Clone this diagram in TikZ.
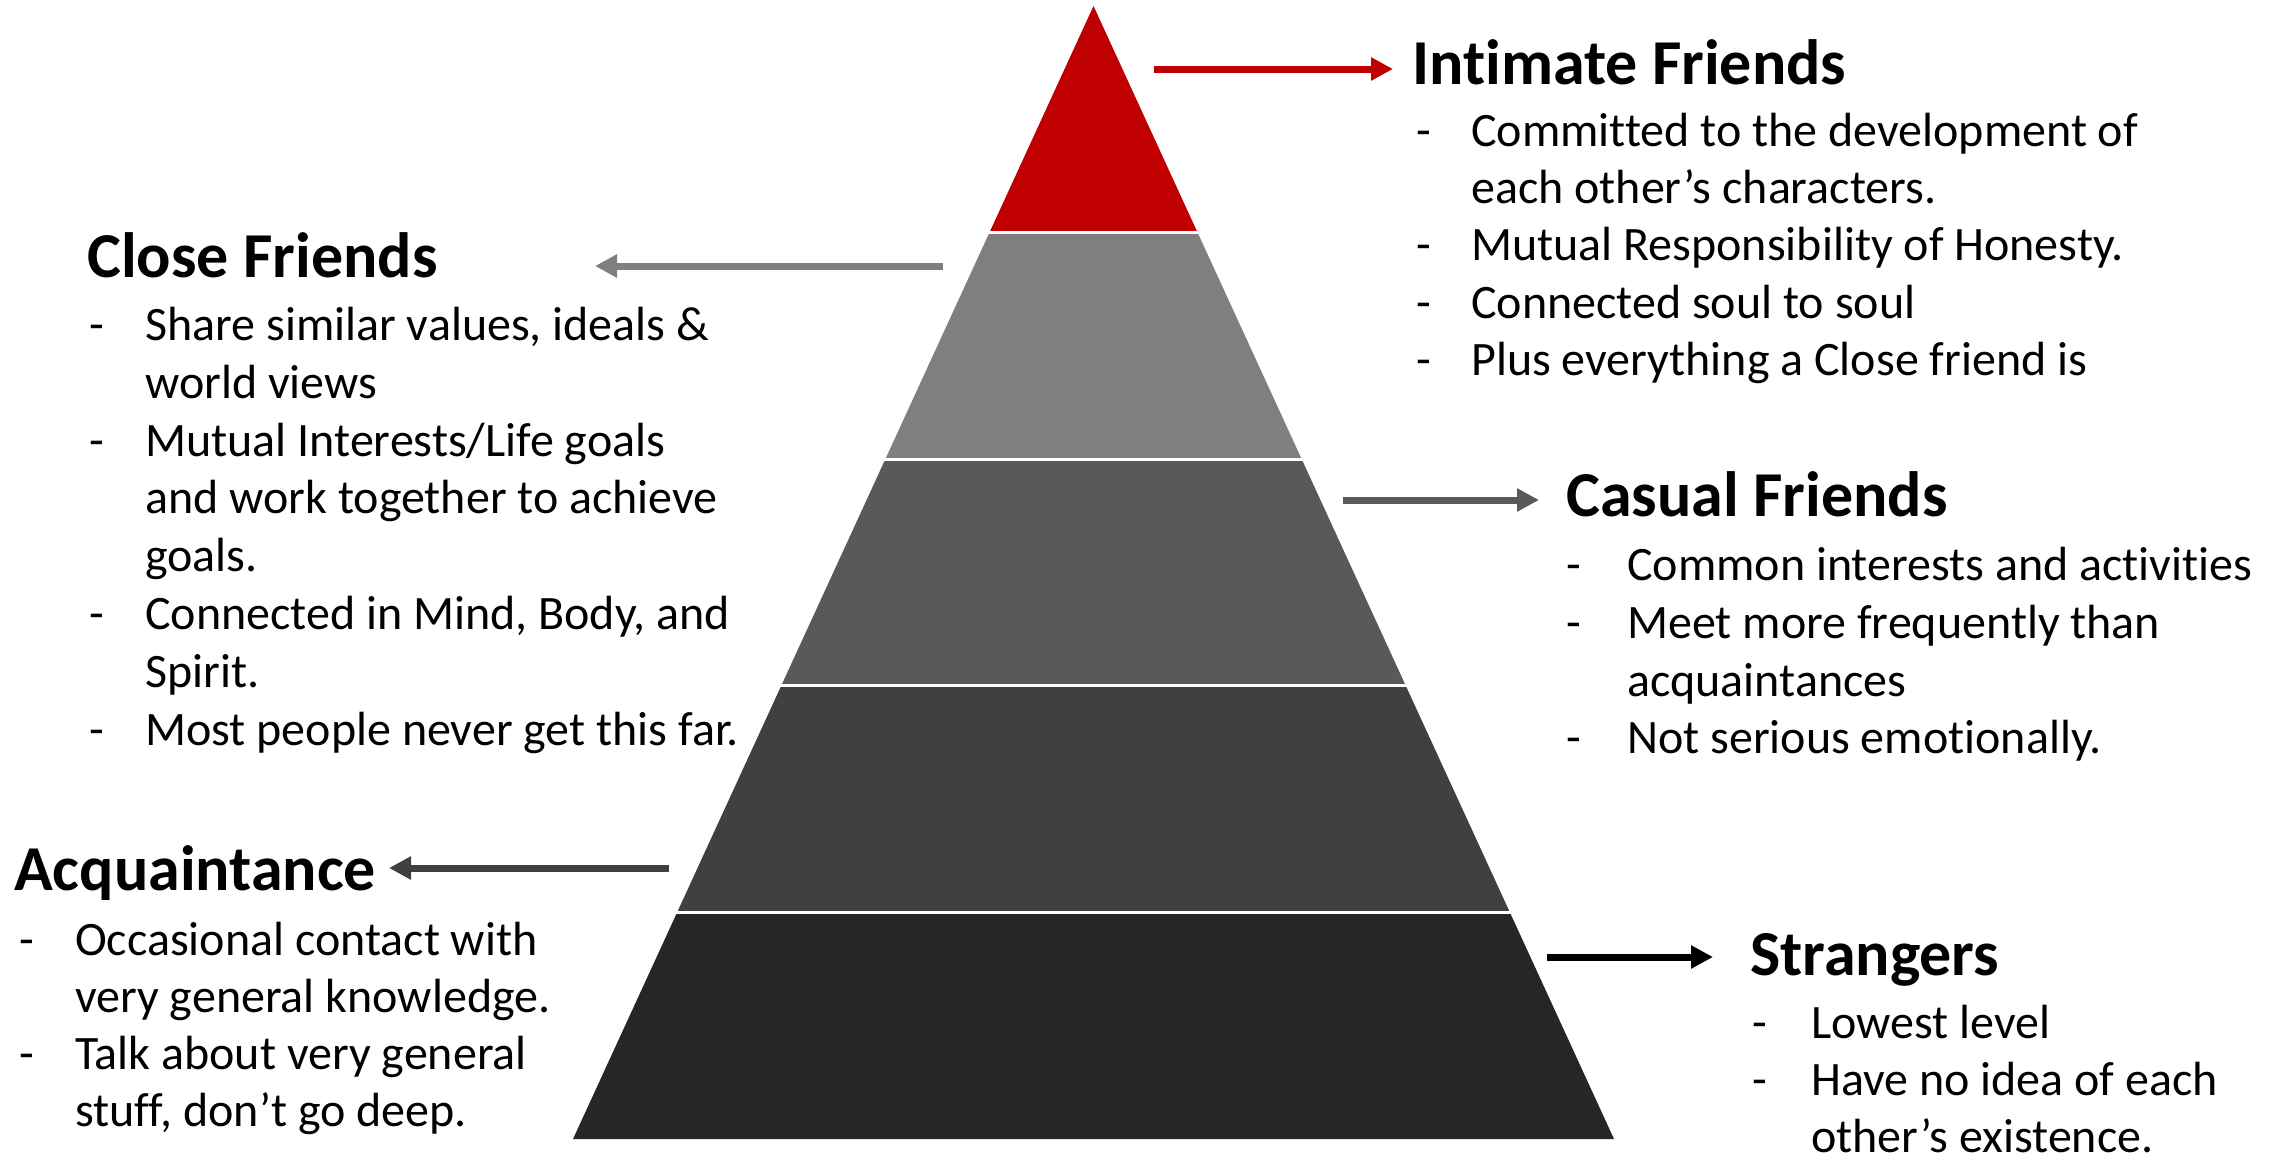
\documentclass[tikz,border=0pt]{standalone}
\usepackage{fontspec}
\setmainfont{Carlito}[Ligatures={NoCommon}]
\usetikzlibrary{arrows.meta}
\definecolor{cRed}{HTML}{C00000}
\definecolor{cB2}{HTML}{7F7F7F}
\definecolor{cB3}{HTML}{595959}
\definecolor{cB4}{HTML}{404040}
\definecolor{cB5}{HTML}{262626}
\tikzset{
  body/.style={font=\fontsize{48}{57.5}\selectfont, inner sep=0pt, anchor=base west},
  ttl/.style={font=\bfseries\fontsize{64}{77}\selectfont, inner sep=0pt, anchor=base west},
  arr/.style={line width=7pt, -{Triangle[length=22pt,width=22pt]}},
  sep/.style={draw=white, line width=3pt},
}
\begin{document}
\begin{tikzpicture}[x=1pt,y=-1pt]
\useasboundingbox (0,0) rectangle (2282,1152);
\fill[white] (0,0) rectangle (2282,1152);
% pyramid corners
\coordinate (apex) at (1093.5,6);
\coordinate (L1) at (989.4,232.6);  \coordinate (R1) at (1197.6,232.6);
\coordinate (L2) at (885.3,459.2);  \coordinate (R2) at (1301.7,459.2);
\coordinate (L3) at (781.2,685.8);  \coordinate (R3) at (1405.8,685.8);
\coordinate (L4) at (677.1,912.4);  \coordinate (R4) at (1509.9,912.4);
\coordinate (L5) at (573,1139);     \coordinate (R5) at (1614,1139);
\fill[cRed] (apex) -- (R1) -- (L1) -- cycle;
\fill[cB2] (L1) -- (R1) -- (R2) -- (L2) -- cycle;
\fill[cB3] (L2) -- (R2) -- (R3) -- (L3) -- cycle;
\fill[cB4] (L3) -- (R3) -- (R4) -- (L4) -- cycle;
\fill[cB5] (L4) -- (R4) -- (R5) -- (L5) -- cycle;
\draw[sep] ([xshift=-3pt]L1) -- ([xshift=3pt]R1);
\draw[sep] ([xshift=-3pt]L2) -- ([xshift=3pt]R2);
\draw[sep] ([xshift=-3pt]L3) -- ([xshift=3pt]R3);
\draw[sep] ([xshift=-3pt]L4) -- ([xshift=3pt]R4);
% arrows
\coordinate (aIs) at (1154,69);  \coordinate (aIe) at (1393,69);
\coordinate (aCs) at (943,266);  \coordinate (aCe) at (595,266);
\coordinate (aKs) at (1343,500); \coordinate (aKe) at (1539,500);
\coordinate (aAs) at (669,868);  \coordinate (aAe) at (389,868);
\coordinate (aSs) at (1547,957); \coordinate (aSe) at (1713,957);
\draw[arr, cRed] (aIs) -- (aIe);
\draw[arr, cB2] (aCs) -- (aCe);
\draw[arr, cB3] (aKs) -- (aKe);
\draw[arr, cB4] (aAs) -- (aAe);
\draw[arr, black] (aSs) -- (aSe);
% Intimate Friends
\node[ttl] (tI) at (1412,84) {Intimate Friends};
\node[body] (dI1) at (1416,146) {-};
\node[body] (I1) at (1471,146) {Committed to the development of};
\node[body] (I1b) at (1471,203) {each other’s characters.};
\node[body] (dI2) at (1416,260) {-};
\node[body] (I2) at (1471,260) {Mutual Responsibility of Honesty.};
\node[body] (dI3) at (1416,318) {-};
\node[body] (I3) at (1471,318) {Connected soul to soul};
\node[body] (dI4) at (1416,375) {-};
\node[body] (I4) at (1471,375) {Plus everything a Close friend is};
% Close Friends
\node[ttl] (tC) at (87,277) {Close Friends};
\node[body] (dC1) at (89,340) {-};
\node[body] (C1) at (145,340) {Share similar values, ideals \&};
\node[body] (C1b) at (145,398) {world views};
\node[body] (dC2) at (89,456) {-};
\node[body] (C2) at (145,456) {Mutual Interests/Life goals};
\node[body] (C2b) at (145,513) {and work together to achieve};
\node[body] (C2c) at (145,571) {goals.};
\node[body] (dC3) at (89,629) {-};
\node[body] (C3) at (145,629) {Connected in Mind, Body, and};
\node[body] (C3b) at (145,687) {Spirit.};
\node[body] (dC4) at (89,745) {-};
\node[body] (C4) at (145,745) {Most people never get this far.};
% Casual Friends
\node[ttl] (tK) at (1566,516) {Casual Friends};
\node[body] (dK1) at (1566,580) {-};
\node[body] (K1) at (1627,580) {Common interests and activities};
\node[body] (dK2) at (1566,638) {-};
\node[body] (K2) at (1627,638) {Meet more frequently than};
\node[body] (K2b) at (1627,696) {acquaintances};
\node[body] (dK3) at (1566,753) {-};
\node[body] (K3) at (1627,753) {Not serious emotionally.};
% Acquaintance
\node[ttl] (tA) at (14,890) {Acquaintance};
\node[body] (dA1) at (19,955) {-};
\node[body] (A1) at (75,955) {Occasional contact with};
\node[body] (A1b) at (75,1012) {very general knowledge.};
\node[body] (dA2) at (19,1069) {-};
\node[body] (A2) at (75,1069) {Talk about very general};
\node[body] (A2b) at (75,1126) {stuff, don’t go deep.};
% Strangers
\node[ttl] (tS) at (1750,975) {Strangers};
\node[body] (dS1) at (1752,1038) {-};
\node[body] (S1) at (1811,1038) {Lowest level};
\node[body] (dS2) at (1752,1095) {-};
\node[body] (S2) at (1811,1095) {Have no idea of each};
\node[body] (S2b) at (1811,1152) {other’s existence.};
\end{tikzpicture}
\end{document}
